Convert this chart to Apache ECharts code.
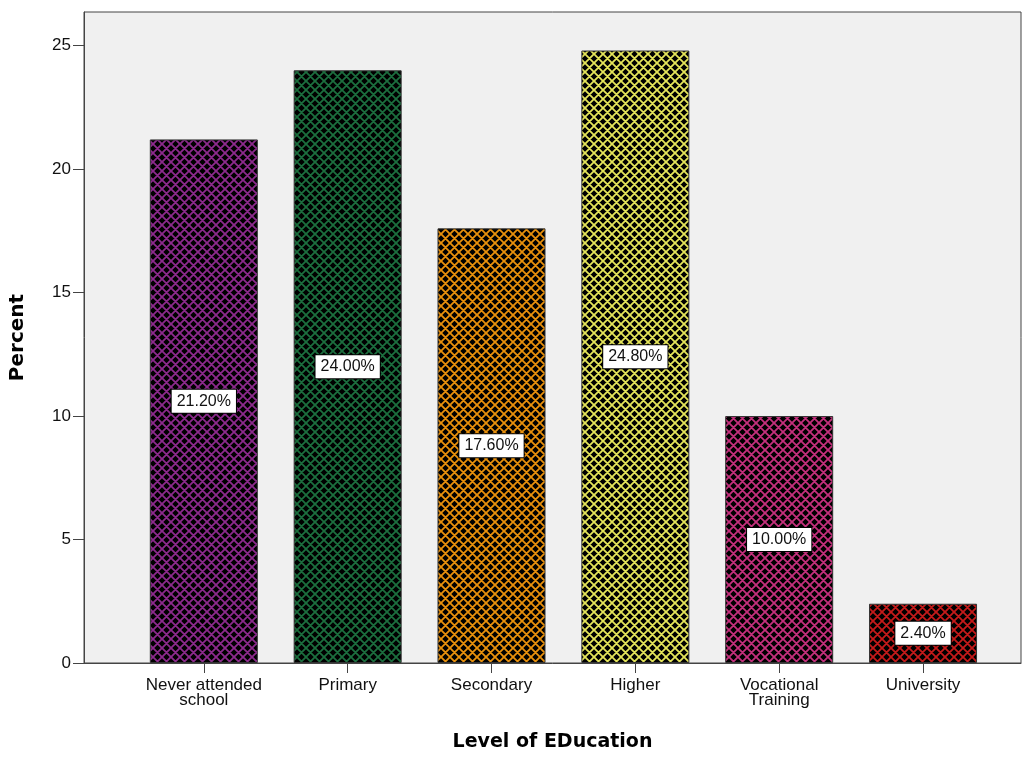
<!DOCTYPE html>
<html>
<head>
<meta charset="utf-8">
<script src="https://cdn.jsdelivr.net/npm/echarts@6/dist/echarts.min.js"></script>
<style>
  html, body { margin: 0; padding: 0; background: #fff; }
  #chart { width: 1028px; height: 757px; }
</style>
</head>
<body>
<div id="chart"></div>
<script>
const categories = ["Never attended\nschool", "Primary", "Secondary", "Higher", "Vocational\nTraining", "University"];
const percents = [21.2, 24.0, 17.6, 24.8, 10.0, 2.4];
const yTicks = [0, 5, 10, 15, 20, 25];
const catPositions = [0, 1, 2, 3, 4, 5];

// hatch colours per bar
const hatchColors = ['#8c2a8c', '#1c6e3e', '#e8900c', '#e4e45a', '#c4307c', '#c41a1a'];

const font = "Arial, 'Liberation Sans', sans-serif";
const titleFont = "'DejaVu Sans', Arial, sans-serif";

function hatch(color) {
  const p = 9;
  const c = document.createElement('canvas');
  c.width = p; c.height = p;
  const ctx = c.getContext('2d');
  ctx.fillStyle = '#000';
  ctx.fillRect(0, 0, p, p);
  ctx.strokeStyle = color;
  ctx.lineWidth = 1.8;
  ctx.beginPath();
  [-p, 0, p].forEach(k => {
    ctx.moveTo(k - 2, -2); ctx.lineTo(k + p + 2, p + 2);
    ctx.moveTo(k - 2, p + 2); ctx.lineTo(k + p + 2, -2);
  });
  ctx.stroke();
  return { image: c, repeat: 'repeat' };
}

const chart = echarts.init(document.getElementById('chart'));

chart.setOption({
  animation: false,
  backgroundColor: '#fff',
  grid: {
    left: 83, right: 7, top: 12, bottom: 88,
    show: true, backgroundColor: '#f0f0f0', borderColor: '#444', borderWidth: 1
  },
  xAxis: {
    type: 'value',
    min: -0.833, max: 5.681,
    name: 'Level of EDucation',
    nameLocation: 'middle',
    nameGap: 70,
    nameTextStyle: { fontFamily: titleFont, fontSize: 19, fontWeight: 'bold', color: '#000' },
    axisLine: { show: true, onZero: false, lineStyle: { color: '#444', width: 1 } },
    axisTick: { show: true, length: 10, customValues: catPositions, lineStyle: { color: '#444' } },
    axisLabel: {
      customValues: catPositions,
      formatter: v => categories[Math.round(v)],
      fontFamily: font, fontSize: 17, color: '#111', lineHeight: 15, margin: 15
    },
    splitLine: { show: false }
  },
  yAxis: {
    type: 'value',
    min: 0, max: 26.36,
    name: 'Percent',
    nameLocation: 'middle',
    nameGap: 56,
    nameTextStyle: { fontFamily: titleFont, fontSize: 20, fontWeight: 'bold', color: '#000' },
    axisLine: { show: true, onZero: false, lineStyle: { color: '#444', width: 1 } },
    axisTick: { show: true, length: 11, customValues: yTicks, lineStyle: { color: '#444' } },
    axisLabel: { customValues: yTicks, fontFamily: font, fontSize: 17, color: '#111', margin: 13 },
    splitLine: { show: false }
  },
  series: [{
    type: 'bar',
    barWidth: 108,
    data: percents.map((v, i) => ({
      value: [catPositions[i], v],
      itemStyle: { color: hatch(hatchColors[i]), borderColor: '#333', borderWidth: 1 }
    })),
    label: {
      show: true,
      position: 'inside',
      formatter: p => p.value[1].toFixed(2) + '%',
      fontFamily: font, fontSize: 16, color: '#111', lineHeight: 17,
      backgroundColor: '#fff', borderColor: '#000', borderWidth: 1,
      padding: [3, 5, 3, 5]
    }
  }]
});
</script>
</body>
</html>
